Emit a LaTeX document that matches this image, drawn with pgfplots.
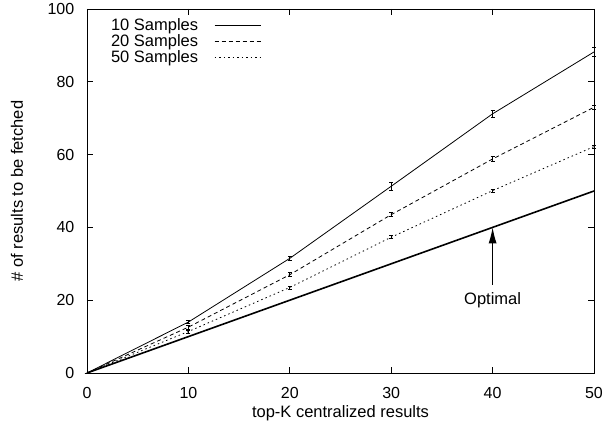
\documentclass[border=0pt]{standalone}
\usepackage{fontspec}
\setmainfont{Liberation Sans}
\usepackage{pgfplots}
\pgfplotsset{compat=1.18}
\usetikzlibrary{arrows.meta}
\begin{document}
\fontsize{16.5}{19}\selectfont
\begin{tikzpicture}
\begin{axis}[
  name=ax,
  scale only axis,
  width=507pt, height=364pt,
  xmin=0, xmax=50, ymin=0, ymax=100,
  xtick={0,10,...,50}, ytick={0,20,...,100},
  tick align=inside,
  major tick length=6pt,
  axis line style={line width=0.9pt},
  every tick/.style={black, line width=0.7pt},
  /pgf/number format/assume math mode=true,
  tick label style={font=\fontsize{16}{19}\selectfont},
  label style={font=\fontsize{16.5}{19}\selectfont},
  yticklabel style={xshift=-7pt},
  xticklabel style={yshift=-9pt},
  xlabel={top-K centralized results},
  ylabel={\# of results to be fetched},
  xlabel style={at={(axis description cs:0.5,0)}, anchor=center, yshift=-40pt},
  ylabel style={at={(axis description cs:0,0.5)}, anchor=center, yshift=70pt},
  legend plot pos=right,
  legend cell align=left,
  legend style={draw=none, fill=none, at={(0.043,0.98)}, anchor=north west,
    font=\fontsize{16.5}{16}\selectfont, inner sep=0pt, row sep=-2.6pt},
  legend image code/.code={\path (0pt,0pt); \draw[#1] (14pt,0pt) -- (60pt,0pt);},
  clip=false,
]
\addplot[black, line width=0.8pt, mark=none,
  error bars/.cd, y dir=both, y explicit,
  error mark options={rotate=90, mark size=2pt, line width=0.8pt},
  error bar style={line width=0.8pt}]
  table[x=x, y=y, y error=e] {
x  y     e
0  0     0
10 14.0  0.5
20 31.5  0.6
30 51.3  1.0
40 71.2  1.0
50 88.2  1.2
};
\addlegendentry{10 Samples}
\addplot[black, line width=0.8pt, mark=none, dash pattern=on 4pt off 3pt,
  error bars/.cd, y dir=both, y explicit,
  error mark options={rotate=90, mark size=2pt, line width=0.8pt, solid},
  error bar style={line width=0.8pt, solid}]
  table[x=x, y=y, y error=e] {
x  y     e
0  0     0
10 12.6  0.5
20 27.0  0.5
30 43.5  0.6
40 58.8  0.6
50 73.0  0.6
};
\addlegendentry{20 Samples}
\addplot[black, line width=0.8pt, mark=none, dash pattern=on 1.5pt off 3pt,
  error bars/.cd, y dir=both, y explicit,
  error mark options={rotate=90, mark size=2pt, line width=0.8pt, solid},
  error bar style={line width=0.8pt, solid}]
  table[x=x, y=y, y error=e] {
x  y     e
0  0     0
10 11.4  0.4
20 23.5  0.4
30 37.3  0.4
40 50.1  0.4
50 62.2  0.4
};
\addlegendentry{50 Samples}
\addplot[black, line width=1.6pt, mark=none, forget plot] coordinates {(0,0) (50,50)};
\draw[-{Latex[length=16pt,width=8pt]}, line width=1pt] (axis cs:40,24.2) -- (axis cs:40,40);
\node[anchor=center] at (axis cs:40,20) {Optimal};
\end{axis}
\path (ax.south west) ++(-87pt,-57pt) coordinate (A);
\path (ax.north east) ++(11pt,9pt) coordinate (B);
\pgfresetboundingbox
\path (A) rectangle (B);
\end{tikzpicture}
\end{document}
